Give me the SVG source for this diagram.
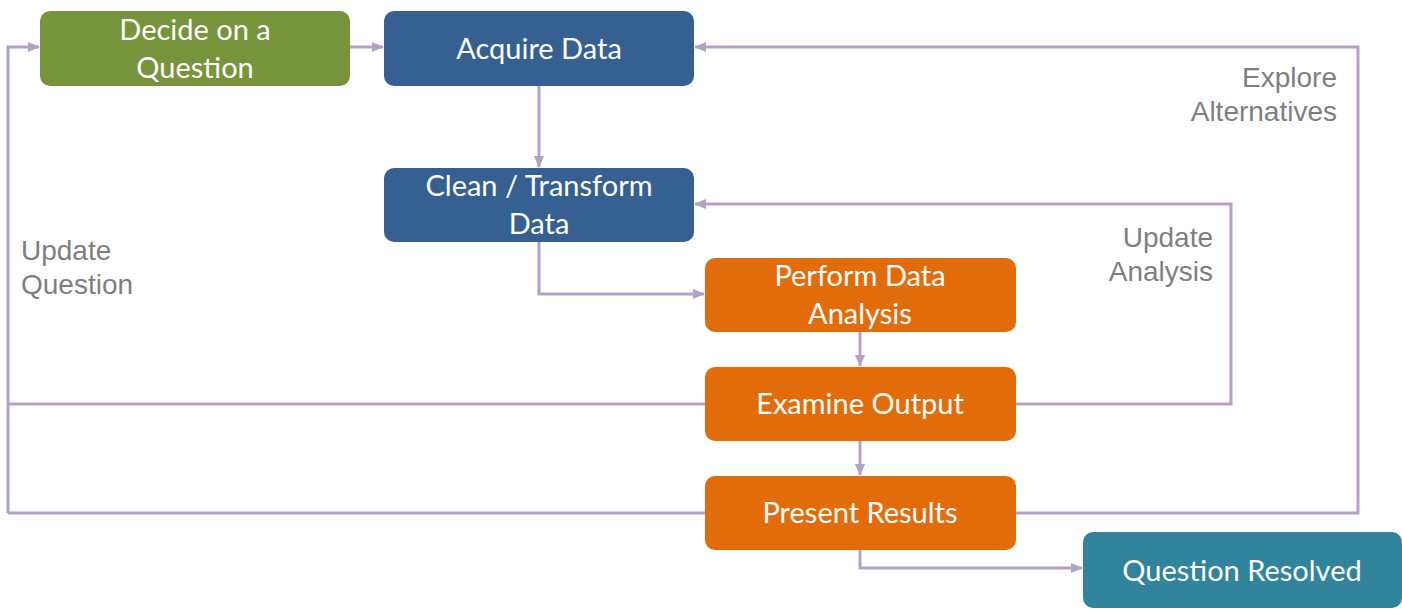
<svg xmlns="http://www.w3.org/2000/svg" width="1402" height="610" viewBox="0 0 1402 610">
<style>
.n{font-family:Lato,"Open Sans",sans-serif;font-size:29px;fill:#fff;text-anchor:middle}
.lbl{font-family:"Liberation Sans",Arial,sans-serif;font-size:28px;fill:#7f7f7f}
.c{fill:none;stroke:#b3a2c7;stroke-width:3}
</style>
<defs>
<marker id="ah" markerUnits="userSpaceOnUse" markerWidth="12" markerHeight="12" viewBox="0 0 12 12" refX="11" refY="6" orient="auto">
<path d="M0,1 L12,6 L0,11 Z" fill="#b3a2c7"/>
</marker>
</defs>
<rect width="1402" height="610" fill="#fff"/>
<g id="connectors">
<path class="c" d="M8,513 V47 H39" marker-end="url(#ah)"/>
<path class="c" d="M8,404 H705"/>
<path class="c" d="M8,513 H705"/>
<path class="c" d="M350,47 H383" marker-end="url(#ah)"/>
<path class="c" d="M539,85 V167" marker-end="url(#ah)"/>
<path class="c" d="M539,241 V294 H704" marker-end="url(#ah)"/>
<path class="c" d="M860,331 V366" marker-end="url(#ah)"/>
<path class="c" d="M860,440 V475" marker-end="url(#ah)"/>
<path class="c" d="M860,550 V568 H1082" marker-end="url(#ah)"/>
<path class="c" d="M1016,404 H1231 V204 H695" marker-end="url(#ah)"/>
<path class="c" d="M1016,513 H1358 V47 H695" marker-end="url(#ah)"/>
</g>
<g id="decide">
<rect x="40" y="11" width="310" height="75" rx="10" fill="#77933c"/>
<text class="n" x="195" y="40">Decide on a</text>
<text class="n" x="195" y="78">Question</text>
</g>
<g id="acquire">
<rect x="384" y="11" width="310" height="75" rx="10" fill="#366092"/>
<text class="n" x="539" y="59">Acquire Data</text>
</g>
<g id="clean">
<rect x="384" y="168" width="310" height="74" rx="10" fill="#366092"/>
<text class="n" x="539" y="196">Clean / Transform</text>
<text class="n" x="539" y="234">Data</text>
</g>
<g id="perform">
<rect x="705" y="258" width="311" height="74" rx="10" fill="#e36c0a"/>
<text class="n" x="860" y="286">Perform Data</text>
<text class="n" x="860" y="324">Analysis</text>
</g>
<g id="examine">
<rect x="705" y="367" width="311" height="74" rx="10" fill="#e36c0a"/>
<text class="n" x="860" y="414">Examine Output</text>
</g>
<g id="present">
<rect x="705" y="476" width="311" height="74" rx="10" fill="#e36c0a"/>
<text class="n" x="860" y="523">Present Results</text>
</g>
<g id="resolved">
<rect x="1083" y="532" width="319" height="76" rx="10" fill="#31849b"/>
<text class="n" x="1242" y="581">Question Resolved</text>
</g>
<g id="labels">
<text class="lbl" x="21" y="260">Update</text>
<text class="lbl" x="21" y="294">Question</text>
<text class="lbl" x="1337" y="87" text-anchor="end">Explore</text>
<text class="lbl" x="1337" y="121" text-anchor="end">Alternatives</text>
<text class="lbl" x="1213" y="247" text-anchor="end">Update</text>
<text class="lbl" x="1213" y="281" text-anchor="end">Analysis</text>
</g>
</svg>
